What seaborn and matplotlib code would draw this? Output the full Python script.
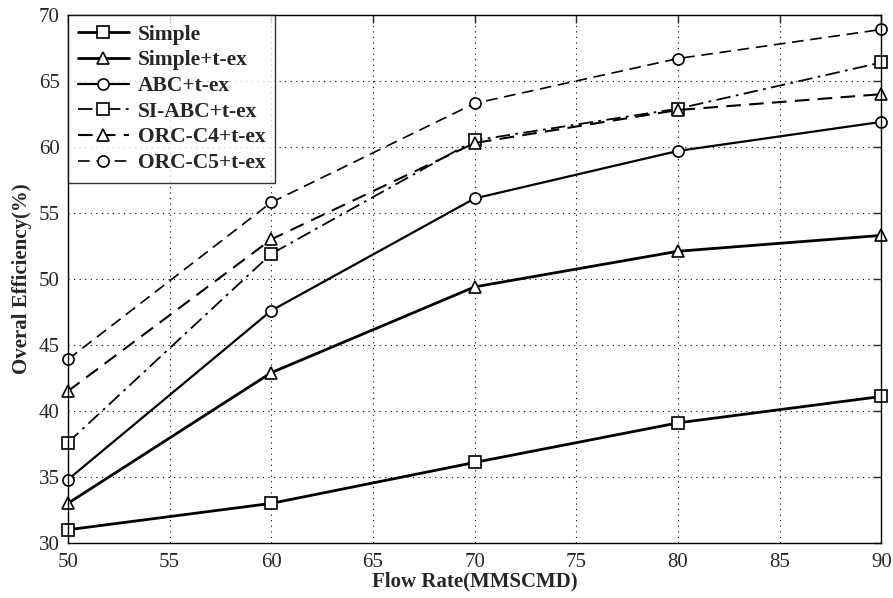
import matplotlib
matplotlib.use("Agg")
import matplotlib.pyplot as plt
import seaborn as sns
import pandas as pd

flow = [50, 60, 70, 80, 90]
simple = [31.0, 33.0, 36.1, 39.1, 41.1]
simple_tex = [33.0, 42.9, 49.4, 52.1, 53.3]
abc_tex = [34.8, 47.6, 56.1, 59.7, 61.9]
si_abc_tex = [37.6, 51.9, 60.5, 62.9, 66.4]
orc_c4_tex = [41.5, 53.0, 60.3, 62.8, 64.0]
orc_c5_tex = [43.9, 55.8, 63.3, 66.7, 68.9]
names = ["Simple", "Simple+t-ex", "ABC+t-ex", "SI-ABC+t-ex", "ORC-C4+t-ex", "ORC-C5+t-ex"]
series = [simple, simple_tex, abc_tex, si_abc_tex, orc_c4_tex, orc_c5_tex]

rows = []
for n, s in zip(names, series):
    for x, y in zip(flow, s):
        rows.append({"flow": x, "eff": y, "series": n})
df = pd.DataFrame(rows)

sns.set_style("white")
plt.rcParams['font.family'] = ['Liberation Serif', 'DejaVu Serif']

fig = plt.figure(figsize=(8.93, 5.98), dpi=100)
ax = fig.add_axes([0.076, 0.092, 0.911, 0.883])

styles = {
    "Simple": ("-", "s", 2.0),
    "Simple+t-ex": ("-", "^", 2.0),
    "ABC+t-ex": ("-", "o", 1.6),
    "SI-ABC+t-ex": ((0, (8, 3, 1.5, 3)), "s", 1.3),
    "ORC-C4+t-ex": ((0, (7, 4)), "^", 1.5),
    "ORC-C5+t-ex": ((0, (7, 4)), "o", 1.2),
}
for n in names:
    ls, mk, lw = styles[n]
    sub = df[df["series"] == n]
    sns.lineplot(data=sub, x="flow", y="eff", ax=ax, color="black", linestyle=ls,
                 marker=mk, markersize=8, markerfacecolor="white", markeredgecolor="black",
                 markeredgewidth=1.2, linewidth=lw, label=n, clip_on=False)

ax.set_xlim(50, 90)
ax.set_ylim(30, 70)
ax.set_xticks(range(50, 91, 5))
ax.set_yticks(range(30, 71, 5))
ax.grid(True, color="black", linestyle=(0, (1, 4)), linewidth=0.8)
ax.tick_params(axis="both", direction="in", top=True, right=True, length=6, labelsize=15, width=1)
ax.tick_params(axis="x", pad=7)
ax.tick_params(axis="y", pad=6)
for sp in ax.spines.values():
    sp.set_color("black")
    sp.set_linewidth(1.0)
ax.set_xlabel("Flow Rate(MMSCMD)", fontsize=15, fontweight="bold", labelpad=0)
ax.set_ylabel("Overal Efficiency(%)", fontsize=15, fontweight="bold", labelpad=5)

leg = ax.legend(loc="upper left", prop={"weight": "bold", "size": 15.5},
                frameon=True, fancybox=False, edgecolor="black", borderaxespad=0.0,
                handlelength=2.4, labelspacing=0.26, borderpad=0.45, handletextpad=0.4)
leg.get_frame().set_linewidth(1.0)

fig.savefig("out.png", dpi=100)
